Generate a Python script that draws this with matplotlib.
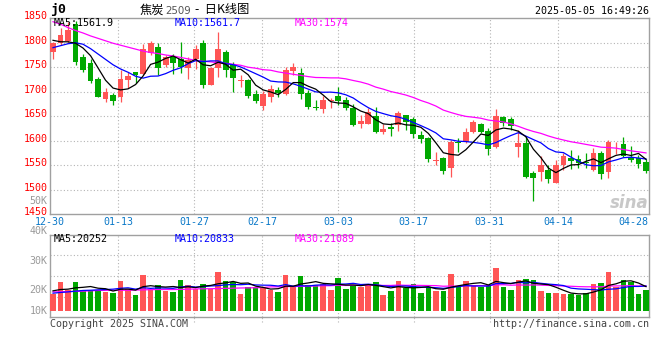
import matplotlib
matplotlib.use("Agg")
import matplotlib.pyplot as plt
import numpy as np
from matplotlib.transforms import blended_transform_factory, offset_copy

# ---------------- data ----------------
date_labels = ["12-30", "01-13", "01-27", "02-17", "03-03", "03-17", "03-31", "04-14", "04-28"]
date_index = [0, 9, 19, 28, 38, 48, 58, 67, 77]

opens = [1782, 1799, 1804, 1839, 1771, 1759, 1726, 1686, 1693, 1690,
         1724, 1740, 1736, 1779, 1791, 1755, 1770, 1766, 1748, 1766,
         1800, 1714, 1748, 1782, 1754, 1722, 1724, 1695, 1671, 1690,
         1703, 1695, 1742, 1738, 1698, 1669, 1665, 1681, 1691, 1683,
         1666, 1634, 1634, 1650, 1617, 1628, 1632, 1652, 1644, 1611,
         1605, 1558, 1564, 1545, 1597, 1597, 1617, 1634, 1620, 1586,
         1648, 1644, 1586, 1596, 1534, 1535, 1540, 1514, 1550, 1564,
         1562, 1556, 1539, 1575, 1535, 1588, 1593, 1567, 1564, 1557]
highs = [1802, 1830, 1842, 1845, 1778, 1766, 1729, 1707, 1697, 1744,
         1741, 1741, 1797, 1804, 1799, 1775, 1778, 1802, 1771, 1795,
         1806, 1750, 1821, 1785, 1761, 1734, 1726, 1703, 1701, 1714,
         1710, 1751, 1758, 1749, 1704, 1683, 1691, 1687, 1710, 1690,
         1674, 1652, 1667, 1668, 1633, 1637, 1661, 1653, 1649, 1620,
         1608, 1577, 1567, 1601, 1605, 1625, 1642, 1637, 1625, 1665,
         1651, 1648, 1622, 1610, 1537, 1569, 1551, 1560, 1574, 1581,
         1571, 1574, 1584, 1579, 1601, 1598, 1607, 1588, 1571, 1562]
lows = [1766, 1796, 1800, 1755, 1740, 1718, 1689, 1679, 1673, 1679,
        1707, 1717, 1734, 1776, 1734, 1750, 1736, 1739, 1725, 1746,
        1707, 1713, 1731, 1730, 1700, 1710, 1688, 1676, 1663, 1678,
        1690, 1694, 1734, 1686, 1665, 1663, 1656, 1666, 1673, 1663,
        1630, 1625, 1633, 1615, 1613, 1610, 1620, 1622, 1605, 1595,
        1557, 1550, 1532, 1525, 1577, 1595, 1616, 1616, 1571, 1585,
        1629, 1622, 1567, 1523, 1477, 1518, 1513, 1513, 1540, 1542,
        1543, 1543, 1537, 1521, 1524, 1573, 1567, 1557, 1543, 1533]
closes = [1800, 1815, 1826, 1761, 1744, 1722, 1690, 1700, 1681, 1725,
          1733, 1734, 1787, 1800, 1748, 1771, 1758, 1751, 1765, 1787,
          1714, 1748, 1787, 1744, 1727, 1724, 1691, 1681, 1695, 1706,
          1697, 1744, 1751, 1695, 1669, 1667, 1683, 1684, 1681, 1666,
          1631, 1640, 1658, 1618, 1624, 1624, 1656, 1639, 1614, 1603,
          1562, 1560, 1537, 1597, 1595, 1618, 1639, 1618, 1583, 1651,
          1637, 1629, 1596, 1526, 1524, 1551, 1522, 1550, 1569, 1559,
          1555, 1555, 1575, 1531, 1598, 1590, 1569, 1560, 1552, 1538]
volumes = [14400, 24500, 17700, 24500, 17700, 17700, 17500, 15500, 14600, 25400,
           18300, 13200, 30100, 18600, 21700, 16300, 15500, 25900, 21700, 18300,
           22500, 18300, 33000, 25400, 24500, 14400, 19700, 19700, 20000, 17500,
           16100, 30100, 19700, 29300, 22000, 21700, 22800, 17700, 27600, 18600,
           22000, 19700, 22500, 24200, 13200, 16600, 25100, 19200, 22500, 14900,
           19700, 16600, 16900, 31000, 21100, 25100, 21400, 19700, 21400, 36100,
           20000, 17500, 25900, 26800, 25900, 16600, 14900, 14900, 14100, 14100,
           13200, 14900, 22500, 23400, 32700, 20000, 25900, 24200, 14100, 17500]

# moving-average values for the first days (history before the window)
ma5_head = [1805, 1802, 1802, 1799]
ma10_head = [1790, 1794, 1798, 1800, 1797, 1788, 1777, 1766, 1755]
ma30_head = [1843, 1838, 1831, 1825, 1820, 1814, 1809, 1804, 1799, 1795,
             1791, 1787, 1783, 1780, 1778, 1775, 1773, 1770, 1767, 1764,
             1762, 1761, 1759, 1758, 1756, 1754, 1750, 1748, 1745]
vma5_head = [16800, 17900, 18200, 19300]
vma10_head = [14800, 15400, 15900, 16500, 17100, 17300, 17600, 17900, 18200]
vma30_head = [15900, 16000, 16200, 16300, 16500, 16800, 17100, 17200, 17300, 17300,
              17300, 17500, 17600, 17800, 17900, 17900, 17900, 18000, 18200, 18400,
              18500, 18600, 18700, 18900, 19000, 19200, 19300, 19400, 19600]

price_ticks = [1850, 1800, 1750, 1700, 1650, 1600, 1550, 1500, 1450]
price_ma_text = ["MA5:1561.9", "MA10:1561.7", "MA30:1574"]
vol_ma_text = ["MA5:20252", "MA10:20833", "MA30:21089"]
vol_label_text = ["50K", "40K", "30K", "20K", "10K"]
vol_label_px = [201, 231, 261, 290, 311]
title_code = "j0"
title_name = "焦炭"
title_num = "2509"
title_rest = "-  日K线图"
stamp = "2025-05-05 16:49:26"
foot_left = "Copyright 2025 SINA.COM"
foot_right = "http://finance.sina.com.cn"


def moving(series, head, n):
    s = np.asarray(series, dtype=float)
    out = list(head)
    for i in range(n - 1, len(s)):
        out.append(s[i - n + 1:i + 1].mean())
    return np.array(out)


ma5 = moving(closes, ma5_head, 5)
ma10 = moving(closes, ma10_head, 10)
ma30 = moving(closes, ma30_head, 30)
vma5 = moving(volumes, vma5_head, 5)
vma10 = moving(volumes, vma10_head, 10)
vma30 = moving(volumes, vma30_head, 30)

# ---------------- style ----------------
W, H = 660, 360
RED = "#ff5555"
GREEN = "#00a800"
GRID = "#b4b4b4"
SPINE = "#a0a0a0"
MONO = "DejaVu Sans Mono"
FS = 7.2

fig = plt.figure(figsize=(W / 100, H / 100), dpi=100)


def rect(l, t, r, b):
    return [l / W, 1 - b / H, (r - l) / W, (b - t) / H]


ax = fig.add_axes(rect(50.5, 18.3, 649, 214))
axv = fig.add_axes(rect(50.5, 234.7, 649, 317.3))

n = len(closes)
x = np.arange(n)
o = np.array(opens, float)
c = np.array(closes, float)
hi = np.array(highs, float)
lo = np.array(lows, float)
up = c >= o
cols = np.where(up, RED, GREEN)

# grid positions (Sina draws them slightly stretched relative to bars)
grid_pos = np.array(date_index) * 1.00986 - 0.4

for a in (ax, axv):
    a.set_xlim(-0.333, 79.4)
    for s in a.spines.values():
        s.set_color(SPINE)
        s.set_linewidth(1.0)
    a.set_xticks([])
    a.set_yticks([])
    a.set_facecolor("white")
    for gp in grid_pos[1:-1]:
        a.axvline(gp, color=GRID, lw=0.8, ls=(0, (1, 2)), zorder=0.5)

# ----- price panel -----
ax.set_ylim(1450, 1850)
for v in price_ticks[1:-1]:
    ax.axhline(v, color=GRID, lw=0.8, ls=(0, (1, 2)), zorder=0.5)

ax.vlines(x, lo, hi, colors=cols, lw=0.9, zorder=2)
body_h = np.maximum(np.abs(c - o), 1.2)
ax.bar(x, body_h, bottom=np.minimum(o, c), width=0.78, color=cols, lw=0, zorder=3)

ax.plot(x, ma30, color="#ff00ff", lw=0.9, zorder=4)
ax.plot(x, ma10, color="#0000ff", lw=0.9, zorder=4)
ax.plot(x, ma5, color="black", lw=0.9, zorder=5)

ylab_tr = offset_copy(blended_transform_factory(ax.transAxes, ax.transData), fig=fig, x=-3, y=2, units="dots")
for v in price_ticks:
    ax.text(0, v, str(v), transform=ylab_tr, ha="right", va="center",
            color="#ff0000", fontsize=FS, family=MONO, clip_on=False)

xlab_tr = offset_copy(blended_transform_factory(ax.transData, ax.transAxes), fig=fig, y=-8, units="dots")
for lbl, gp in zip(date_labels, grid_pos):
    ax.text(gp, 0, lbl, transform=xlab_tr, ha="center", va="center",
            color="#0a78c8", fontsize=FS, family=MONO, clip_on=False)

ma_cols = ["black", "#0000ff", "#ff00ff"]
ma_x = [54, 175, 295]
for t, col, px in zip(price_ma_text, ma_cols, ma_x):
    fig.text(px / W, 1 - 23.5 / H, t, color=col, fontsize=FS, family=MONO, ha="left", va="center")

# sina watermark
fig.text(649 / W, 1 - 203 / H, "sina", color="#c8c8c8", fontsize=12, fontweight="bold",
         style="italic", ha="right", va="center", family="DejaVu Sans")

# ----- volume panel -----
axv.set_ylim(-5580, 64220)
for fr in (0.25, 0.5, 0.75):
    axv.axhline(-5580 + fr * (64220 + 5580), color=GRID, lw=0.8, ls=(0, (1, 2)), zorder=0.5)
axv.bar(x, volumes, width=0.74, color=cols, lw=0, zorder=3)
axv.plot(x, vma30, color="#ff00ff", lw=0.9, zorder=4)
axv.plot(x, vma10, color="#0000ff", lw=0.9, zorder=4)
axv.plot(x, vma5, color="black", lw=0.9, zorder=5)
for t, col, px in zip(vol_ma_text, ma_cols, ma_x):
    fig.text(px / W, 1 - 238.5 / H, t, color=col, fontsize=FS, family=MONO, ha="left", va="center")

tick_tr = blended_transform_factory(axv.transData, axv.transAxes)
axv.vlines(grid_pos[1:-1], -0.06, 0, transform=tick_tr, colors=GRID, lw=0.8,
           linestyles=(0, (1, 2)), clip_on=False)

for t, py in zip(vol_label_text, vol_label_px):
    fig.text(47.5 / W, 1 - py / H, t, color="#9a9a9a", fontsize=FS, family=MONO, ha="right", va="center")

# ----- header / footer -----
fig.text(50 / W, 1 - 10 / H, title_code, fontsize=9.5, fontweight="bold", family=MONO,
         ha="left", va="center", color="black")
cjk = ["Noto Sans CJK SC", "DejaVu Sans"]
fig.text(140 / W, 1 - 10 / H, title_name, fontsize=8.8, family=cjk, ha="left", va="center", color="black")
fig.text(165 / W, 1 - 10.5 / H, title_num, fontsize=7.4, family="DejaVu Sans", ha="left", va="center", color="#555555")
fig.text(195 / W, 1 - 10 / H, title_rest, fontsize=8.8, family=cjk, ha="left", va="center", color="black")
fig.text(649 / W, 1 - 11 / H, stamp, fontsize=FS, family=MONO, ha="right", va="center", color="black")
fig.text(50 / W, 1 - 324 / H, foot_left, fontsize=FS, family=MONO, ha="left", va="center", color="#444444")
fig.text(649 / W, 1 - 324 / H, foot_right, fontsize=FS, family=MONO, ha="right", va="center", color="#444444")

fig.savefig("out.png", dpi=100)
